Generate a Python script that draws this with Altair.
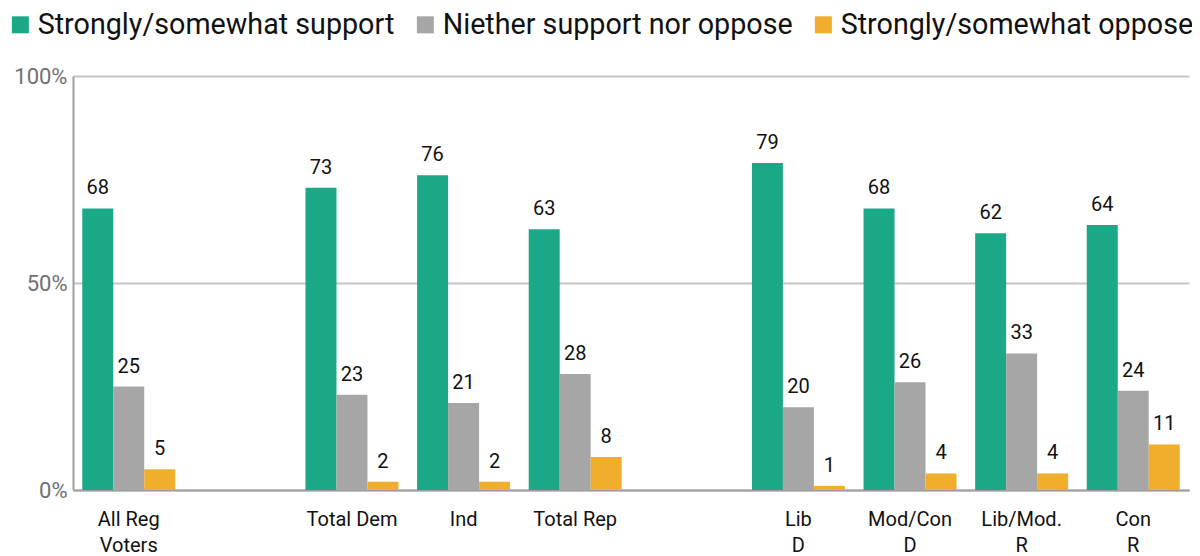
import altair as alt
import pandas as pd

groups = ["All Reg|Voters", "Total Dem", "Ind", "Total Rep", "Lib|D", "Mod/Con|D", "Lib/Mod.|R", "Con|R"]
domain = ["All Reg|Voters", "gap1", "Total Dem", "Ind", "Total Rep", "gap2", "Lib|D", "Mod/Con|D", "Lib/Mod.|R", "Con|R"]
series = ["Strongly/somewhat support", "Niether support nor oppose", "Strongly/somewhat oppose"]
support = [68, 73, 76, 63, 79, 68, 62, 64]
neither = [25, 23, 21, 28, 20, 26, 33, 24]
oppose = [5, 2, 2, 8, 1, 4, 4, 11]
colors = ["#1ba886", "#a6a6a6", "#f0ae2c"]

rows = []
for i, g in enumerate(groups):
    for s, vals in zip(series, [support, neither, oppose]):
        rows.append({"group": g, "series": s, "value": vals[i]})
df = pd.DataFrame(rows)

x = alt.X("group:N", scale=alt.Scale(domain=domain, paddingInner=0.167, paddingOuter=0.083),
          axis=alt.Axis(title=None, labelAngle=0, ticks=False, domainColor="#a0a0a0", domainWidth=2,
                        labelExpr="indexof(datum.label, 'gap') == 0 ? '' : split(datum.label, '|')",
                        labelFont="Roboto", labelFontSize=20, labelColor="#111111",
                        labelPadding=19, labelLineHeight=26, labelBaseline="top"))
y = alt.Y("value:Q", scale=alt.Scale(domain=[0, 100]),
          axis=alt.Axis(title=None, values=[0, 50, 100], labelExpr="datum.value + '%'",
                        labelFont="Roboto", labelFontSize=22, labelColor="#707070",
                        ticks=False, labelPadding=6, grid=True, gridColor="#c4c4c4", gridWidth=2,
                        domainColor="#a0a0a0", domainWidth=2))
xo = alt.XOffset("series:N", sort=series, scale=alt.Scale(paddingInner=0, paddingOuter=0))
color = alt.Color("series:N", sort=series, scale=alt.Scale(domain=series, range=colors),
                  legend=alt.Legend(title=None, orient="none", legendX=-67, legendY=-66,
                                    direction="horizontal", symbolType="square", symbolSize=289,
                                    symbolStrokeWidth=0, symbolOpacity=1,
                                    labelFont="Roboto", labelFontSize=28.7, labelColor="#111111",
                                    labelOffset=3, columnPadding=16, labelLimit=600))

bars = alt.Chart(df).mark_bar(opacity=1).encode(x=x, y=y, xOffset=xo, color=color)
text = alt.Chart(df).mark_text(baseline="bottom", dy=-10, font="Roboto", fontSize=20, color="#111111").encode(
    x=x, y=y, xOffset=xo, text="value:Q")

chart = (bars + text).properties(
    width=1116, height=414,
    autosize=alt.AutoSizeParams(type="none"),
    padding={"left": 65, "top": 68, "right": 3, "bottom": 66},
).configure_view(stroke=None)

chart.save("out.html", embed_options={"renderer": "svg", "actions": False})
